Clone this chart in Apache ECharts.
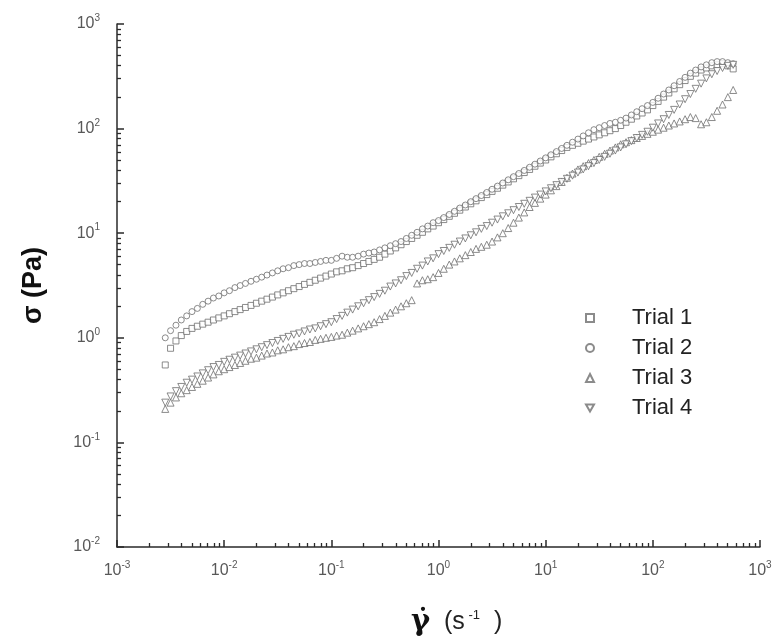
<!DOCTYPE html>
<html>
<head>
<meta charset="utf-8">
<script src="https://cdn.jsdelivr.net/npm/echarts@6/dist/echarts.min.js"></script>
<style>
  html, body { margin: 0; padding: 0; background: #ffffff; }
  #chart { width: 778px; height: 642px; }
</style>
</head>
<body>
<div id="chart"></div>
<script>
// Shear rate (1/s), common to all four trials
const shearRate = [
  0.00282, 0.00316, 0.00355, 0.00398, 0.00447, 0.00501, 0.00562, 0.00631, 0.00708, 0.00794,
  0.00891, 0.0100, 0.0112, 0.0126, 0.0141, 0.0158, 0.0178, 0.0200, 0.0224, 0.0251,
  0.0282, 0.0316, 0.0355, 0.0398, 0.0447, 0.0501, 0.0562, 0.0631, 0.0708, 0.0794,
  0.0891, 0.100, 0.112, 0.126, 0.141, 0.158, 0.178, 0.200, 0.224, 0.251,
  0.282, 0.316, 0.355, 0.398, 0.447, 0.501, 0.562, 0.631, 0.708, 0.794,
  0.891, 1.00, 1.12, 1.26, 1.41, 1.58, 1.78, 2.00, 2.24, 2.51,
  2.82, 3.16, 3.55, 3.98, 4.47, 5.01, 5.62, 6.31, 7.08, 7.94,
  8.91, 10.0, 11.2, 12.6, 14.1, 15.8, 17.8, 20.0, 22.4, 25.1,
  28.2, 31.6, 35.5, 39.8, 44.7, 50.1, 56.2, 63.1, 70.8, 79.4,
  89.1, 100, 112, 126, 141, 158, 178, 200, 224, 251,
  282, 316, 355, 398, 447, 501, 562
];

// Shear stress (Pa) for each trial
const trial1 = [
  0.550, 0.794, 0.933, 1.05, 1.15, 1.23, 1.29, 1.35, 1.41, 1.48,
  1.55, 1.62, 1.70, 1.78, 1.86, 1.95, 2.04, 2.14, 2.24, 2.34,
  2.45, 2.57, 2.69, 2.82, 2.95, 3.09, 3.24, 3.39, 3.55, 3.72,
  3.89, 4.07, 4.27, 4.37, 4.57, 4.68, 4.90, 5.13, 5.37, 5.62,
  5.89, 6.31, 6.76, 7.24, 7.76, 8.32, 8.91, 9.55, 10.2, 11.0,
  11.7, 12.6, 13.5, 14.5, 15.5, 16.6, 17.8, 19.1, 20.4, 21.9,
  23.4, 25.1, 26.9, 28.8, 30.9, 33.1, 35.5, 38.0, 40.7, 43.7,
  46.8, 50.1, 53.7, 57.5, 61.7, 66.1, 69.2, 72.4, 75.9, 79.4,
  83.2, 87.1, 91.2, 95.5, 100, 107, 115, 123, 132, 141,
  151, 166, 182, 200, 219, 240, 263, 288, 316, 339,
  363, 380, 398, 407, 417, 398, 372
];
const trial2 = [
  1.00, 1.17, 1.32, 1.48, 1.62, 1.78, 1.91, 2.09, 2.24, 2.40,
  2.51, 2.69, 2.82, 3.02, 3.16, 3.31, 3.47, 3.63, 3.80, 3.98,
  4.17, 4.37, 4.57, 4.68, 4.90, 5.01, 5.13, 5.13, 5.25, 5.37,
  5.50, 5.50, 5.75, 6.03, 5.89, 5.89, 6.03, 6.31, 6.46, 6.61,
  6.92, 7.24, 7.59, 7.94, 8.32, 8.91, 9.55, 10.2, 11.0, 11.7,
  12.6, 13.2, 14.1, 15.1, 16.2, 17.4, 18.6, 20.0, 21.4, 22.9,
  24.5, 26.3, 28.2, 30.2, 32.4, 34.7, 37.2, 39.8, 42.7, 45.7,
  49.0, 52.5, 56.2, 60.3, 64.6, 69.2, 74.1, 79.4, 85.1, 91.2,
  97.7, 102, 107, 112, 115, 120, 126, 135, 145, 155,
  166, 178, 195, 214, 234, 257, 282, 309, 339, 363,
  389, 407, 427, 437, 437, 427, 417
];
const trial3 = [
  0.209, 0.240, 0.269, 0.295, 0.316, 0.339, 0.363, 0.389, 0.417, 0.447,
  0.479, 0.501, 0.525, 0.550, 0.575, 0.603, 0.631, 0.646, 0.676, 0.708,
  0.724, 0.759, 0.776, 0.813, 0.832, 0.871, 0.891, 0.912, 0.955, 0.977,
  1.00, 1.02, 1.05, 1.07, 1.12, 1.17, 1.23, 1.29, 1.35, 1.41,
  1.51, 1.62, 1.74, 1.86, 2.00, 2.14, 2.29, 3.31, 3.55, 3.63,
  3.80, 4.17, 4.57, 5.01, 5.37, 5.75, 6.17, 6.61, 7.08, 7.41,
  7.76, 8.32, 9.12, 10.0, 11.2, 12.6, 14.1, 15.8, 17.8, 19.5,
  21.4, 23.4, 25.7, 28.2, 30.9, 33.9, 37.2, 40.7, 43.7, 46.8,
  50.1, 53.7, 57.5, 61.7, 66.1, 70.8, 74.1, 77.6, 81.3, 85.1,
  89.1, 93.3, 97.7, 102, 107, 112, 117, 123, 129, 126,
  110, 115, 129, 148, 170, 200, 234
];
const trial4 = [
  0.240, 0.275, 0.309, 0.339, 0.372, 0.398, 0.427, 0.457, 0.490, 0.525,
  0.550, 0.589, 0.617, 0.646, 0.676, 0.708, 0.741, 0.776, 0.813, 0.851,
  0.891, 0.933, 0.977, 1.02, 1.07, 1.10, 1.15, 1.20, 1.23, 1.29,
  1.35, 1.41, 1.51, 1.62, 1.74, 1.86, 2.00, 2.14, 2.29, 2.45,
  2.63, 2.82, 3.09, 3.31, 3.55, 3.89, 4.17, 4.57, 4.90, 5.37,
  5.75, 6.31, 6.76, 7.24, 7.76, 8.32, 8.91, 9.55, 10.2, 11.0,
  11.7, 12.6, 13.5, 14.5, 15.5, 16.6, 17.8, 19.1, 20.4, 21.9,
  23.4, 25.1, 26.9, 28.8, 30.9, 33.1, 35.5, 38.0, 40.7, 43.7,
  46.8, 50.1, 53.7, 57.5, 61.7, 66.1, 70.8, 75.9, 81.3, 87.1,
  93.3, 102, 112, 123, 135, 151, 170, 191, 214, 240,
  269, 302, 331, 355, 380, 398, 407
];

const trialNames = ['Trial 1', 'Trial 2', 'Trial 3', 'Trial 4'];
// square, circle, upward triangle, downward triangle
const trialSymbols = ['rect', 'circle', 'triangle', 'path://M0,0L20,0L10,17.3Z'];
const trialSizes = [6, 6, 7, 7];
const trialStress = [trial1, trial2, trial3, trial4];

// Decade exponents for the tick labels
const xDecades = [-3, -2, -1, 0, 1, 2, 3];
const yDecades = [-2, -1, 0, 1, 2, 3];

// Minor ticks at 2..9 times each decade
function minorTicks(decades) {
  const out = [];
  for (let i = 0; i < decades.length - 1; i++) {
    for (let m = 2; m <= 9; m++) out.push(m * Math.pow(10, decades[i]));
  }
  return out;
}

const sansFont = 'Liberation Sans, Arial, sans-serif';
const axisColor = '#2a2a2a';
const labelRich = {
  b: { fontSize: 16, color: '#585858', fontFamily: sansFont },
  s: { fontSize: 10, color: '#585858', fontFamily: sansFont, padding: [0, 0, 11, 0] }
};
function decadeLabel(v) {
  const e = Math.round(Math.log10(v));
  return '{b|10}{s|' + e + '}';
}

function majorAxis(decades, labelMargin, extra) {
  const majors = decades.map(e => Math.pow(10, e));
  return Object.assign({
    type: 'log',
    logBase: 10,
    min: majors[0],
    max: majors[majors.length - 1],
    axisLine: { show: true, lineStyle: { color: axisColor, width: 1.5 } },
    axisTick: { show: true, inside: true, length: 7, lineStyle: { color: axisColor, width: 1.5 },
                customValues: majors },
    axisLabel: { formatter: decadeLabel, rich: labelRich, margin: labelMargin, customValues: majors },
    splitLine: { show: false },
    minorTick: { show: false },
    minorSplitLine: { show: false }
  }, extra);
}
function minorAxis(decades, extra) {
  return Object.assign({
    type: 'log',
    logBase: 10,
    min: Math.pow(10, decades[0]),
    max: Math.pow(10, decades[decades.length - 1]),
    axisLine: { show: false },
    axisTick: { show: true, inside: true, length: 4, lineStyle: { color: axisColor, width: 1.3 },
                customValues: minorTicks(decades) },
    axisLabel: { show: false },
    splitLine: { show: false }
  }, extra);
}

const chart = echarts.init(document.getElementById('chart'), null, { renderer: 'canvas' });

chart.setOption({
  backgroundColor: '#ffffff',
  animation: false,
  grid: { left: 117, right: 18, top: 24, bottom: 95, containLabel: false },
  xAxis: [
    majorAxis(xDecades, 13, { position: 'bottom' }),
    minorAxis(xDecades, { position: 'bottom' })
  ],
  yAxis: [
    majorAxis(yDecades, 17, {
      position: 'left',
      name: 'σ (Pa)',
      nameLocation: 'middle',
      nameGap: 70,
      nameRotate: 90,
      nameTextStyle: { fontSize: 27, fontWeight: 'bold', color: '#111', fontFamily: sansFont }
    }),
    minorAxis(yDecades, { position: 'left' })
  ],
  legend: {
    orient: 'vertical',
    left: 580,
    top: 301,
    itemWidth: 8,
    itemHeight: 8,
    itemGap: 6,
    data: trialNames,
    textStyle: { fontSize: 22, lineHeight: 24, color: '#222', fontFamily: sansFont,
                 padding: [0, 0, 0, 33] }
  },
  graphic: [{
    type: 'text',
    left: 411,
    top: 608,
    style: {
      text: '{g|γ\u0307}{n|  (s}{p| -1}{n|  )}',
      rich: {
        g: { fontSize: 29, fontWeight: 'bold', fill: '#111', fontFamily: 'DejaVu Serif, Liberation Serif, serif' },
        n: { fontSize: 25, fill: '#222', fontFamily: sansFont },
        p: { fontSize: 13, fill: '#222', fontFamily: sansFont, padding: [0, 0, 14, 0] }
      }
    }
  }],
  series: trialNames.map((name, k) => ({
    name: name,
    type: 'scatter',
    xAxisIndex: 0,
    yAxisIndex: 0,
    symbol: trialSymbols[k],
    symbolSize: trialSizes[k],
    itemStyle: { color: '#ffffff', borderColor: '#6e6e6e', borderWidth: 1 },
    emphasis: { disabled: true },
    data: shearRate.map((x, i) => [x, trialStress[k][i]])
  }))
});
</script>
</body>
</html>
